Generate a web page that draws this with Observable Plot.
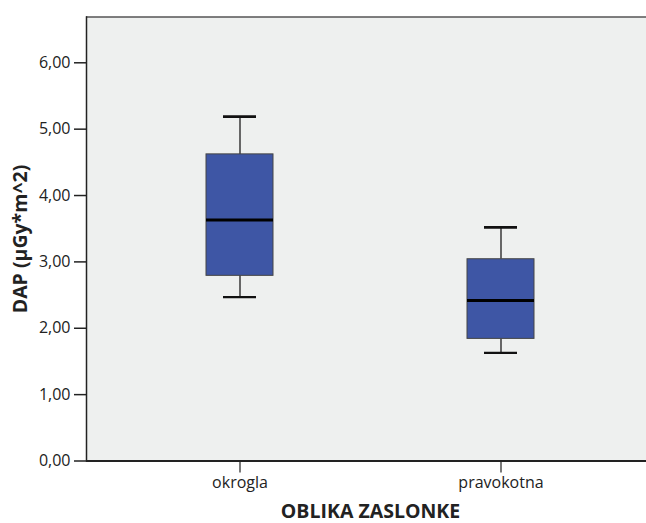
<!DOCTYPE html>
<html>
<head>
<meta charset="utf-8">
<script src="https://cdn.jsdelivr.net/npm/d3@7"></script>
<script src="https://cdn.jsdelivr.net/npm/@observablehq/plot@0.6"></script>
<style>
  html, body { margin: 0; padding: 0; background: #fff; overflow: hidden; width: 646px; height: 523px; }
  #chart { width: 646px; height: 523px; overflow: hidden; }
  #chart svg { max-width: none !important; }
  g[aria-label="y-axis label"] text, g[aria-label="y-axis label"] { font-weight: bold; font-size: 19.5px; }
  g[aria-label="x-axis label"] text, g[aria-label="x-axis label"] { font-weight: bold; font-size: 19.5px; }
</style>
</head>
<body>
<div id="chart"></div>
<script>
const categories = ["okrogla", "pravokotna"];
const whiskerLow = [2.47, 1.63];
const q1 = [2.79, 1.84];
const median = [3.63, 2.42];
const q3 = [4.62, 3.04];
const whiskerHigh = [5.19, 3.52];
const yTicks = [0, 1, 2, 3, 4, 5, 6];
const yMax = 6.69;
const yLabel = "DAP (µGy*m^2)";
const xLabel = "OBLIKA ZASLONKE";

const data = categories.map((c, i) => ({
  cat: c, lo: whiskerLow[i], q1: q1[i], med: median[i], q3: q3[i], hi: whiskerHigh[i]
}));

const fmt = v => d3.format(".2f")(v).replace(".", ",");

const chart = Plot.plot({
  width: 670,
  height: 523,
  marginLeft: 86,
  marginRight: 16,
  marginTop: 16.5,
  marginBottom: 62.5,
  style: { fontFamily: "'Open Sans', sans-serif", fontSize: "16px", color: "#222", background: "#fff", maxWidth: "none" },
  x: { domain: categories, paddingInner: 0.744, paddingOuter: 0.456 },
  y: { domain: [0, yMax] },
  marks: [
    Plot.frame({ fill: "#eef0ef", stroke: "none" }),
    Plot.ruleY([yMax], { stroke: "#555", strokeWidth: 1.5 }),
    Plot.frame({ anchor: "left", stroke: "#222", strokeWidth: 1.5 }),
    Plot.axisY({ ticks: yTicks, tickFormat: fmt, tickSize: 12, tickPadding: 4, stroke: "#222", strokeWidth: 1.5,
      label: yLabel, labelAnchor: "center", labelOffset: 73, labelArrow: "none" }),
    Plot.axisX({ tickSize: 12, tickPadding: 4, stroke: "#222", strokeWidth: 1.2,
      label: xLabel, labelAnchor: "center", labelOffset: 57, labelArrow: "none" }),
    Plot.ruleY([0], { stroke: "#222", strokeWidth: 1.8 }),
    Plot.ruleX(data, { x: "cat", y1: "lo", y2: "q1", stroke: "#444", strokeWidth: 1.6 }),
    Plot.ruleX(data, { x: "cat", y1: "q3", y2: "hi", stroke: "#444", strokeWidth: 1.6 }),
    Plot.tickY(data, { x: "cat", y: "lo", stroke: "#111", strokeWidth: 2.2, insetLeft: 17, insetRight: 17 }),
    Plot.tickY(data, { x: "cat", y: "hi", stroke: "#111", strokeWidth: 2.8, insetLeft: 17, insetRight: 17 }),
    Plot.barY(data, { x: "cat", y1: "q1", y2: "q3", fill: "#3e56a5", stroke: "#444", strokeWidth: 1 }),
    Plot.tickY(data, { x: "cat", y: "med", stroke: "#000", strokeWidth: 3 })
  ]
});
document.getElementById("chart").appendChild(chart);
</script>
</body>
</html>
